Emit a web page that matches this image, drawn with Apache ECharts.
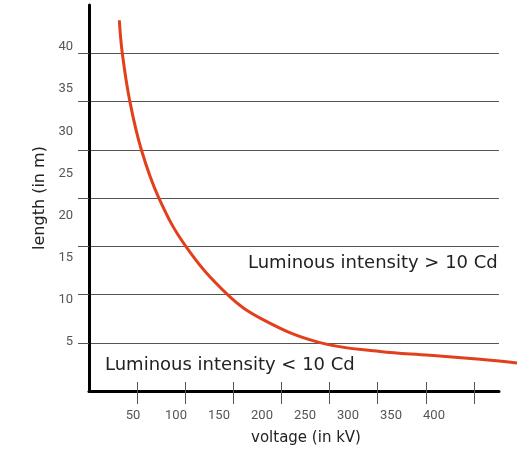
<!DOCTYPE html>
<html>
<head>
<meta charset="utf-8">
<script src="https://cdn.jsdelivr.net/npm/echarts@6/dist/echarts.min.js"></script>
<style>html,body{margin:0;padding:0;background:#fff}#c{width:531px;height:453px}</style>
</head>
<body>
<div id="c"></div>
<script>
// voltage (kV) and length (m)
const voltage = [31.5, 34.6, 42.4, 54.3, 72.5, 100.6, 143.7, 180.8, 237.9, 302.4, 354.3, 406.3, 444.7];
const lengthM = [38.42, 35.00, 30.03, 25.03, 20.02, 14.99, 10.01, 7.40, 5.07, 4.09, 3.71, 3.28, 2.90];
const xTicks = [50, 100, 150, 200, 250, 300, 350, 400];
const xTickLabels = ['50', '100', '150', '200', '250', '300', '350', '400'];
const yGridValues = [5, 10, 15, 20, 25, 30, 35];
const yTickLabels = [5, 10, 15, 20, 25, 30, 35, 40];
const textAbove = 'Luminous intensity > 10 Cd';
const textBelow = 'Luminous intensity < 10 Cd';

const FONT = 'Roboto';
const TFONT = '"DejaVu Sans"';
const chart = echarts.init(document.getElementById('c'), null, {renderer: 'canvas'});
const pts = voltage.map((v, i) => [v, lengthM[i]]);

const XMAX = 426;                 // axis end
const XMAX_WIDE = 426 * 431 / 410; // same scale, wider plotting area for the curve overrun

chart.setOption({
  animation: false,
  backgroundColor: '#fff',
  grid: [
    {left: 89, right: 32, top: 5, bottom: 62, containLabel: false},
    {left: 89, right: 11, top: 5, bottom: 62, containLabel: false}
  ],
  xAxis: [
    { gridIndex: 0, type: 'value', min: 0, max: XMAX, position: 'bottom',
      axisLine: {show: true, onZero: false, lineStyle: {color: '#000', width: 3}},
      axisTick: {show: true, customValues: xTicks, inside: false, length: 13, lineStyle: {color: '#555', width: 1}},
      axisLabel: {show: false}, splitLine: {show: false} },
    { gridIndex: 0, type: 'value', min: 0, max: XMAX, position: 'bottom',
      axisLine: {show: false, onZero: false},
      axisTick: {show: true, customValues: xTicks, inside: true, length: 9, lineStyle: {color: '#555', width: 1}},
      axisLabel: {show: false}, splitLine: {show: false} },
    { gridIndex: 0, type: 'value', min: -1.16, max: 475.6, position: 'bottom',
      axisLine: {show: false, onZero: false}, axisTick: {show: false}, splitLine: {show: false},
      axisLabel: {show: true, customValues: xTicks, margin: 18, color: '#555', fontFamily: FONT, fontSize: 13,
        formatter: v => xTickLabels[xTicks.indexOf(Math.round(v))] ?? ''},
      name: 'voltage (in kV)', nameLocation: 'middle', nameGap: 40,
      nameTextStyle: {color: '#222', fontFamily: TFONT, fontSize: 15, padding: [0, 0, 0, 24]} },
    { gridIndex: 1, type: 'value', min: 0, max: XMAX_WIDE, show: false }
  ],
  yAxis: [
    { gridIndex: 0, type: 'value', min: 0, max: 40, interval: 5, position: 'left',
      axisLine: {show: true, onZero: false, lineStyle: {color: '#000', width: 3}},
      axisTick: {show: true, customValues: yGridValues, inside: false, length: 11, lineStyle: {color: '#555', width: 1}},
      axisLabel: {show: false},
      splitLine: {show: true, lineStyle: {color: '#555', width: 1}} },
    { gridIndex: 0, type: 'value', min: -0.81, max: 44.98, position: 'left',
      axisLine: {show: false, onZero: false}, axisTick: {show: false}, splitLine: {show: false},
      axisLabel: {show: true, customValues: yTickLabels, margin: 16, color: '#555', fontFamily: FONT, fontSize: 13},
      name: 'length (in m)', nameLocation: 'middle', nameGap: 39, nameRotate: 90,
      nameTextStyle: {color: '#222', fontFamily: TFONT, fontSize: 16} },
    { gridIndex: 1, type: 'value', min: 0, max: 40, show: false }
  ],
  series: [{
    type: 'line', xAxisIndex: 3, yAxisIndex: 2, data: pts, smooth: 0.4, clip: false,
    showSymbol: false, symbol: 'none',
    lineStyle: {color: '#E2401C', width: 3}
  }],
  graphic: [
    {type: 'text', left: 248, top: 254, style: {text: textAbove, fill: '#222', font: '18px ' + TFONT}},
    {type: 'text', left: 105, top: 356, style: {text: textBelow, fill: '#222', font: '18px ' + TFONT}}
  ]
});
</script>
</body>
</html>
